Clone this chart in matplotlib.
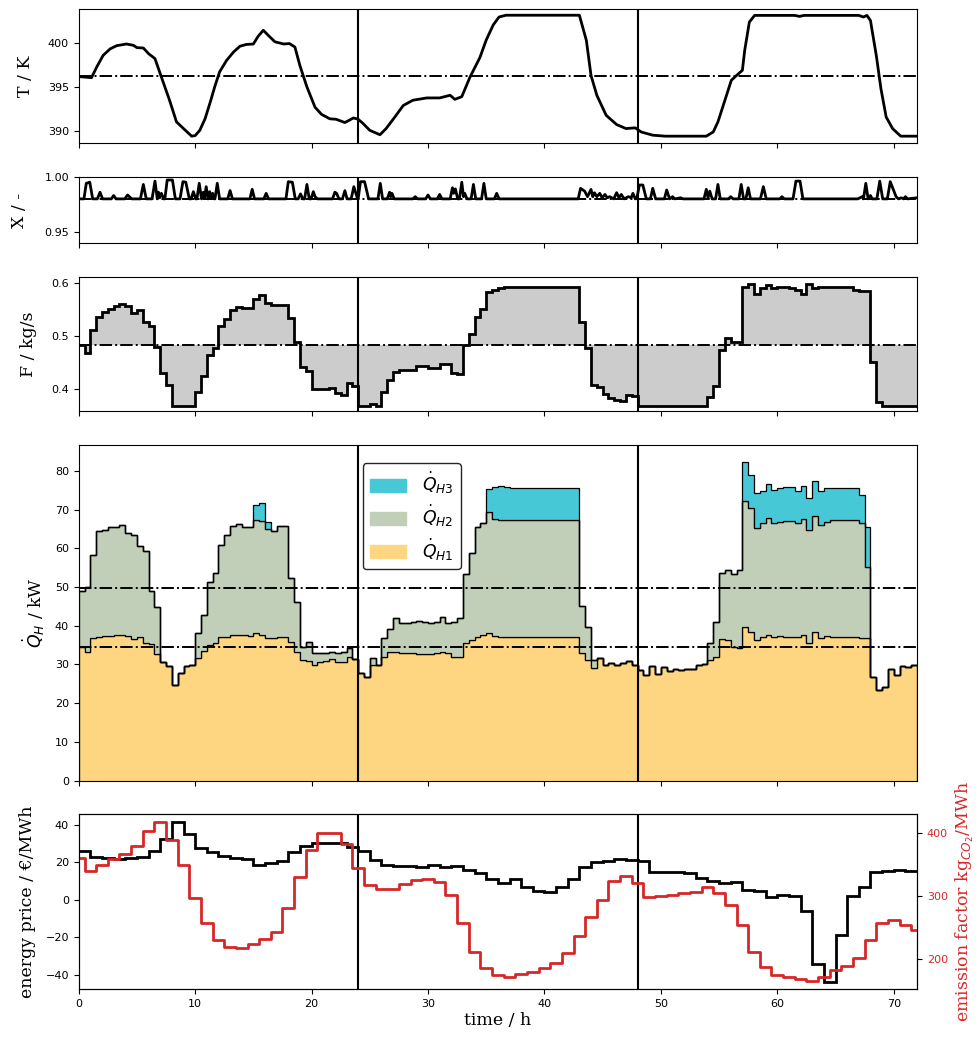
import numpy as np
import matplotlib
matplotlib.use("Agg")
import matplotlib.pyplot as plt
from matplotlib.patches import Patch

# ---------------- data ----------------
# reactor temperature (K), sampled points
t_T = [0, 1.1, 1.55, 2.1, 2.7, 3.26, 4.1, 4.7, 5.0, 5.55, 6.0, 6.55, 7.0, 7.4, 7.8,
       8.4, 9.0, 9.7, 10.0, 10.4, 10.85, 11.3, 11.7, 12.1, 12.7, 13.3, 13.85, 14.4,
       15.0, 15.4, 15.85, 16.3, 16.85, 17.6, 18.1, 18.57, 19.0, 19.6, 20.3, 20.86,
       21.57, 22.1, 22.86, 23.6, 24.0, 24.4, 25.0, 25.87, 26.4, 27.15, 27.87, 28.7,
       29.9, 31.0, 31.9, 32.3, 32.9, 33.6, 34.45, 35.0, 35.6, 36.1, 36.7, 43.0, 43.6,
       44.0, 44.5, 45.3, 46.2, 47.0, 47.8, 48.3, 49.3, 50.4, 53.9, 54.5, 54.9, 55.5,
       56.05, 56.5, 57.0, 57.2, 57.6, 58.05, 61.5, 61.9, 62.3, 67.0, 67.4, 67.7, 68.0,
       68.5, 68.9, 69.35, 69.9, 70.6, 72.0]
T = [396.17, 396.05, 397.26, 398.57, 399.3, 399.66, 399.85, 399.7, 399.44, 399.4,
     398.76, 398.2, 396.5, 395.0, 393.5, 391.05, 390.3, 389.44, 389.5, 390.1, 391.4,
     393.3, 395.1, 396.7, 398.0, 398.95, 399.6, 399.8, 399.85, 400.7, 401.4, 400.8,
     400.1, 399.85, 399.9, 399.5, 397.4, 395.0, 392.7, 391.9, 391.4, 391.35, 390.98,
     391.5, 391.35, 390.9, 390.1, 389.6, 390.3, 391.6, 392.9, 393.5, 393.76, 393.76,
     394.06, 393.6, 393.9, 396.1, 398.3, 400.3, 402.0, 402.9, 403.1, 403.1, 400.26,
     396.3, 394.06, 391.8, 390.75, 390.3, 390.38, 389.92, 389.55, 389.44, 389.44,
     389.92, 391.05, 393.5, 395.75, 396.3, 396.88, 399.14, 402.33, 403.08, 403.08,
     402.97, 403.08, 403.08, 402.9, 403.08, 402.5, 398.57, 394.8, 391.6, 390.3,
     389.44, 389.44]
T_ref = 396.2

# conversion X (-)
t_X = [0, 0.45, 0.65, 0.95, 1.2, 1.6, 1.83, 2.05, 2.8, 3.0, 3.2, 3.95, 4.2, 4.35,
       4.55, 5.3, 5.55, 5.8, 6.3, 6.55, 6.75, 6.85, 6.95, 7.1, 7.3, 7.4, 7.6, 8.05,
       8.3, 8.7, 8.95, 9.2, 9.5, 9.65, 9.85, 10.05, 10.15, 10.35, 10.55, 10.7, 10.8,
       10.95, 11.1, 11.25, 11.35, 11.5, 11.65, 11.7, 11.9, 12.1, 12.8, 13.0, 13.2,
       14.7, 14.9, 15.1, 15.9, 16.1, 16.3, 17.8, 18.0, 18.35, 18.6, 18.85, 19.05,
       19.25, 19.4, 19.6, 19.8, 19.95, 20.15, 20.3, 20.5, 21.8, 22.0, 22.15, 22.35,
       22.65, 22.86, 23.05, 23.4, 23.63, 23.75, 23.95, 24.0, 24.2, 24.55, 24.9, 25.7,
       25.9, 26.1, 26.5, 26.7, 26.8, 26.9, 27.1, 28.7, 28.9, 29.1, 29.8, 30.0, 30.2,
       30.8, 31.0, 31.2, 31.9, 32.1, 32.2, 32.35, 32.55, 32.7, 32.9, 33.05, 33.15,
       33.35, 33.7, 33.9, 34.1, 34.6, 34.8, 35.0, 35.7, 35.9, 36.1, 42.9, 43.1, 43.45,
       43.7, 44.0, 44.15, 44.3, 44.5, 44.75, 44.95, 45.2, 45.4, 45.6, 45.95, 46.2,
       46.4, 46.6, 46.85, 47.2, 47.45, 47.6, 47.8, 47.95, 48.15, 48.45, 48.75, 49.1,
       49.3, 49.55, 50.3, 50.5, 50.75, 51.0, 51.2, 51.7, 51.9, 53.7, 53.9, 54.05,
       54.2, 54.4, 54.7, 54.9, 55.1, 55.8, 56.0, 56.2, 56.7, 56.9, 57.1, 57.3, 57.5,
       57.7, 58.55, 58.8, 59.05, 60.2, 60.4, 60.6, 61.35, 61.6, 61.95, 62.2, 66.9,
       67.3, 67.4, 67.6, 67.8, 68.0, 68.15, 68.55, 68.8, 69.05, 69.45, 69.7, 69.9,
       70.2, 70.4, 70.65, 70.85, 71.0, 71.2, 72.0]
X = [0.98, 0.98, 0.994, 0.995, 0.98, 0.98, 0.986, 0.98, 0.98, 0.983, 0.98, 0.98,
     0.9835, 0.982, 0.98, 0.98, 0.993, 0.98, 0.98, 0.996, 0.98, 0.986, 0.981, 0.985,
     0.98, 0.98, 0.997, 0.997, 0.98, 0.98, 0.9955, 0.995, 0.98, 0.98, 0.9865, 0.98,
     0.98, 0.994, 0.98, 0.986, 0.981, 0.991, 0.98, 0.9865, 0.981, 0.985, 0.98, 0.98,
     0.994, 0.98, 0.98, 0.9875, 0.98, 0.98, 0.9886, 0.98, 0.98, 0.985, 0.98, 0.98,
     0.9955, 0.995, 0.98, 0.98, 0.9845, 0.98, 0.98, 0.993, 0.98, 0.98, 0.9865, 0.982,
     0.98, 0.98, 0.986, 0.985, 0.98, 0.98, 0.9874, 0.98, 0.98, 0.991, 0.987, 0.98,
     0.98, 0.9955, 0.9955, 0.98, 0.98, 0.994, 0.98, 0.98, 0.986, 0.982, 0.985, 0.98,
     0.98, 0.982, 0.98, 0.98, 0.9835, 0.98, 0.98, 0.984, 0.98, 0.98, 0.99, 0.985,
     0.989, 0.98, 0.98, 0.995, 0.982, 0.985, 0.98, 0.98, 0.993, 0.98, 0.98, 0.994,
     0.98, 0.98, 0.985, 0.98, 0.98, 0.9895, 0.987, 0.982, 0.9885, 0.982, 0.9855,
     0.982, 0.985, 0.981, 0.984, 0.981, 0.982, 0.98, 0.9856, 0.981, 0.984, 0.98,
     0.982, 0.981, 0.985, 0.98, 0.981, 0.9925, 0.9925, 0.98, 0.98, 0.9895, 0.98,
     0.98, 0.988, 0.98, 0.982, 0.98, 0.981, 0.98, 0.98, 0.9886, 0.981, 0.987, 0.98,
     0.98, 0.993, 0.98, 0.98, 0.982, 0.98, 0.98, 0.993, 0.98, 0.98, 0.99, 0.98, 0.98,
     0.991, 0.98, 0.98, 0.982, 0.98, 0.98, 0.996, 0.996, 0.98, 0.98, 0.982, 0.98,
     0.994, 0.98, 0.983, 0.98, 0.98, 0.996, 0.98, 0.98, 0.9955, 0.99, 0.982, 0.98,
     0.981, 0.98, 0.982, 0.98, 0.981]
X_ref = 0.98

# feed flow (kg/s), half-hour steps
F = [0.483, 0.469, 0.511, 0.536, 0.546, 0.552, 0.557, 0.560, 0.557, 0.544, 0.550,
     0.527, 0.519, 0.480, 0.430, 0.408, 0.369, 0.369, 0.369, 0.369, 0.395, 0.426,
     0.464, 0.477, 0.519, 0.533, 0.550, 0.555, 0.553, 0.553, 0.571, 0.577, 0.563,
     0.558, 0.558, 0.558, 0.535, 0.489, 0.442, 0.434, 0.401, 0.400, 0.400, 0.403,
     0.393, 0.389, 0.411, 0.406,
     0.369, 0.369, 0.373, 0.369, 0.395, 0.417, 0.433, 0.436, 0.437, 0.437, 0.443,
     0.443, 0.441, 0.441, 0.447, 0.447, 0.431, 0.428, 0.483, 0.505, 0.536, 0.552,
     0.584, 0.588, 0.591, 0.592, 0.593, 0.593, 0.593, 0.593, 0.593, 0.593, 0.593,
     0.593, 0.593, 0.593, 0.593, 0.593, 0.527, 0.477, 0.408, 0.404, 0.392, 0.384,
     0.380, 0.378, 0.390, 0.388,
     0.369, 0.369, 0.369, 0.369, 0.369, 0.369, 0.369, 0.369, 0.369, 0.369, 0.369,
     0.369, 0.386, 0.406, 0.475, 0.496, 0.489, 0.489, 0.592, 0.598, 0.580, 0.590,
     0.596, 0.590, 0.592, 0.592, 0.591, 0.588, 0.580, 0.598, 0.590, 0.593, 0.593,
     0.593, 0.593, 0.592, 0.592, 0.588, 0.586, 0.586, 0.452, 0.376, 0.369, 0.369,
     0.369, 0.369, 0.369, 0.369]
F_ref = 0.483

# heat duties (kW), half-hour steps
Q_H1 = [34.5, 33.3, 36.8, 37.2, 37.4, 37.4, 37.5, 37.6, 37.4, 36.5, 37.0, 35.5,
        35.3, 32.7, 30.6, 29.6, 24.7, 27.9, 29.7, 29.9, 31.6, 33.6, 35.1, 35.5,
        37.0, 37.2, 37.6, 37.6, 37.5, 37.4, 38.1, 37.6, 36.8, 36.8, 37.2, 37.2,
        35.7, 33.3, 31.2, 31.0, 29.9, 30.6, 31.0, 31.4, 30.6, 30.6, 32.0, 31.4,
        27.9, 26.9, 29.8, 29.8, 31.9, 33.3, 33.3, 32.9, 32.9, 32.9, 32.7, 32.7,
        32.7, 32.9, 33.3, 32.9, 32.0, 32.0, 35.5, 36.3, 37.2, 37.6, 38.2, 37.4,
        37.2, 37.2, 37.2, 37.2, 37.2, 37.2, 37.2, 37.2, 37.2, 37.2, 37.2, 37.2,
        37.2, 37.2, 32.9, 31.2, 29.0, 31.6, 29.9, 30.3, 29.9, 30.3, 31.0, 29.9,
        28.6, 27.3, 29.5, 27.5, 29.3, 28.2, 28.8, 28.6, 28.9, 28.8, 29.9, 30.1,
        31.2, 32.0, 36.5, 36.2, 34.6, 34.2, 39.6, 38.5, 36.2, 37.0, 37.6, 37.2,
        37.4, 37.2, 37.2, 37.0, 37.6, 35.5, 38.5, 36.8, 37.4, 37.2, 37.2, 37.2,
        37.2, 37.2, 36.8, 36.8, 26.9, 23.3, 24.3, 28.8, 27.3, 29.5, 29.3, 29.9]
Q_H2 = [14.4, 16.8, 21.5, 27.3, 27.4, 28.1, 28.1, 28.5, 26.5, 27.0, 23.6, 23.9,
        13.8, 12.1, 0, 0, 0, 0, 0, 0, 6.6, 9.2, 16.3, 18.2,
        23.9, 26.3, 28.2, 28.6, 28.1, 28.0, 29.3, 29.5, 28.1, 27.8, 28.6, 28.6,
        16.6, 12.8, 3.4, 4.9, 3.0, 2.3, 2.0, 1.8, 2.4, 2.6, 2.2, 0,
        0, 0, 2.0, 0, 4.9, 5.8, 8.6, 7.9, 7.9, 8.2, 8.6, 8.4,
        8.0, 8.2, 8.9, 7.9, 9.1, 9.9, 17.9, 22.4, 28.2, 28.9, 31.3, 30.1,
        30.0, 30.0, 30.0, 30.0, 30.0, 30.0, 30.0, 30.0, 30.0, 30.0, 30.0, 30.0,
        30.0, 30.0, 12.1, 8.6, 2.2, 0, 0, 0, 0, 0, 0, 0,
        0, 0, 0, 0, 0, 0, 0, 0, 0, 0, 0, 0,
        4.3, 9.1, 17.2, 18.2, 18.8, 20.2, 32.5, 31.9, 29.0, 29.5, 30.2, 29.3,
        29.5, 29.9, 29.9, 29.5, 29.9, 29.3, 29.9, 29.3, 29.5, 30.0, 30.0, 30.0,
        30.0, 30.0, 29.7, 18.5, 0, 0, 0, 0, 0, 0, 0, 0]
Q_H3 = [0, 0, 0, 0, 0, 0, 0, 0, 0, 0, 0, 0,
        0, 0, 0, 0, 0, 0, 0, 0, 0, 0, 0, 0,
        0, 0, 0, 0, 0, 0, 3.8, 4.6, 2.0, 0, 0, 0,
        0, 0, 0, 0, 0, 0, 0, 0, 0, 0, 0, 0,
        0, 0, 0, 0, 0, 0, 0, 0, 0, 0, 0, 0,
        0, 0, 0, 0, 0, 0, 0, 0, 0, 0, 5.8, 8.3,
        8.9, 8.6, 8.5, 8.4, 8.4, 8.4, 8.4, 8.4, 8.4, 8.4, 8.4, 8.4,
        8.4, 8.4, 0, 0, 0, 0, 0, 0, 0, 0, 0, 0,
        0, 0, 0, 0, 0, 0, 0, 0, 0, 0, 0, 0,
        0, 0, 0, 0, 0, 0, 10.3, 8.6, 9.0, 8.2, 8.9, 8.6,
        8.7, 8.7, 8.7, 8.4, 8.6, 8.2, 8.9, 8.6, 8.7, 8.4, 8.4, 8.4,
        8.4, 8.4, 7.3, 10.2, 0, 0, 0, 0, 0, 0, 0, 0]
Q_ref = [34.5, 49.7]

# hourly energy price (EUR/MWh)
price = [26.1, 23.1, 22.6, 21.9, 22.6, 23.1, 26.1, 32.4, 41.4, 35.0, 27.6, 25.4,
         23.6, 22.6, 21.7, 18.7, 19.9, 20.8, 25.8, 28.8, 30.6, 30.2, 30.2, 28.1,
         26.1, 21.3, 18.7, 18.1, 18.1, 17.8, 18.7, 17.4, 18.1, 16.0, 14.2, 11.0,
         9.2, 11.0, 6.8, 4.8, 4.1, 6.8, 11.2, 17.4, 20.4, 21.0, 21.9, 21.4,
         20.9, 15.1, 14.9, 15.1, 14.2, 11.9, 10.3, 8.9, 9.3, 5.3, 4.8, 1.8,
         2.7, 2.3, -6.2, -34.1, -43.6, -18.7, 2.1, 7.1, 15.1, 15.5, 16.0, 15.5]
# hourly emission factor (kg CO2/MWh), values at full hours 0..72
emission = [360.2, 340.6, 349.6, 358.6, 366.6, 380.4, 403.7, 417.5, 389.4, 349.6,
            296.6, 256.8, 230.2, 218.6, 217.0, 223.9, 231.8, 243.5, 280.6, 330.0,
            373.5, 401.1, 401.1, 382.5, 344.3, 317.8, 310.9, 311.4, 318.8, 325.7,
            327.3, 323.0, 301.8, 256.8, 211.6, 185.1, 174.5, 171.8, 175.6, 179.8,
            185.1, 194.0, 209.0, 236.5, 266.3, 293.8, 324.6, 332.5, 320.4, 299.1,
            300.0, 301.5, 304.5, 307.0, 314.0, 305.6, 286.0, 254.0, 211.7, 186.7,
            174.5, 170.8, 167.6, 165.0, 170.8, 182.5, 188.9, 201.0, 230.2, 256.8,
            262.0, 254.0, 246.0]

day_marks = [24, 48]

# ---------------- styling ----------------
C_H1 = "#fed581"
C_H2 = "#c1cfb9"
C_H3 = "#46c8d6"
C_F = "#cccccc"
C_RED = "#d62728"
SERIF = "DejaVu Serif"
LAB = 12.5
TCK = 8
PAD = 10

plt.rcParams["xtick.labelsize"] = TCK
plt.rcParams["ytick.labelsize"] = TCK

half_edges = np.arange(0, 72.01, 0.5)
hour_edges = np.arange(0, 72.01, 1.0)
hours = np.arange(0, 73)

fig = plt.figure(figsize=(9.79, 10.38), dpi=100)
L, W = 0.0804, 0.8563
ax1 = fig.add_axes([L, 0.8625, W, 0.1288])
ax2 = fig.add_axes([L, 0.7656, W, 0.0642])
ax3 = fig.add_axes([L, 0.6043, W, 0.1285])
ax4 = fig.add_axes([L, 0.2479, W, 0.3231])
ax5 = fig.add_axes([L, 0.0472, W, 0.1683])
axes = [ax1, ax2, ax3, ax4, ax5]

# temperature
ax1.plot(t_T, T, color="k", lw=2)
ax1.axhline(T_ref, color="k", ls="-.", lw=1.4)
ax1.set_ylim(388.7, 403.8)
ax1.set_yticks([390, 395, 400])
ax1.set_ylabel("T / K", family=SERIF, fontsize=LAB, labelpad=PAD)

# conversion
ax2.axhline(X_ref, color="k", ls="-.", lw=1.4)
ax2.plot(t_X, X, color="k", lw=2)
ax2.set_ylim(0.94, 1.0)
ax2.set_yticks([0.95, 1.0])
ax2.set_yticklabels(["0.95", "1.00"])
ax2.set_ylabel("X / -", family=SERIF, fontsize=LAB, labelpad=PAD + 2)

# feed flow
ax3.stairs(F, half_edges, baseline=F_ref, fill=True, color=C_F)
ax3.stairs(F, half_edges, baseline=None, color="k", lw=2)
ax3.axhline(F_ref, color="k", ls="-.", lw=1.4)
ax3.set_ylim(0.3596, 0.611)
ax3.set_yticks([0.4, 0.5, 0.6])
ax3.set_ylabel("F / kg/s", family=SERIF, fontsize=LAB, labelpad=PAD)

# heat duties, stacked
q1 = np.array(Q_H1)
q12 = q1 + np.array(Q_H2)
q123 = q12 + np.array(Q_H3)
ax4.stairs(q1, half_edges, baseline=0, fill=True, facecolor=C_H1,
           edgecolor="k", lw=0.9)
ax4.stairs(q12, half_edges, baseline=q1, fill=True, facecolor=C_H2,
           edgecolor="k", lw=0.9)
ax4.stairs(q123, half_edges, baseline=q12, fill=True, facecolor=C_H3,
           edgecolor="k", lw=0.9)
for q in Q_ref:
    ax4.axhline(q, color="k", ls="-.", lw=1.4)
ax4.set_ylim(0, 86.6)
ax4.set_yticks(np.arange(0, 81, 10))
ax4.set_ylabel(r"$\dot{Q}_H$ / kW", family=SERIF, fontsize=LAB, labelpad=PAD - 4)
handles = [Patch(facecolor=C_H3, edgecolor=C_H3),
           Patch(facecolor=C_H2, edgecolor=C_H2),
           Patch(facecolor=C_H1, edgecolor=C_H1)]
leg = ax4.legend(handles, [r"$\dot{Q}_{H3}$", r"$\dot{Q}_{H2}$", r"$\dot{Q}_{H1}$"],
                 loc="upper left", bbox_to_anchor=(0.339, 0.947), borderaxespad=0,
                 fontsize=12.5, handlelength=2.1, handleheight=0.8,
                 labelspacing=0.4, framealpha=1, edgecolor="0.15",
                 handletextpad=0.9)

# prices and emission factor
ax5.stairs(price, hour_edges, baseline=None, color="k", lw=2)
ax5.set_ylim(-47.6, 45.7)
ax5.set_yticks([-40, -20, 0, 20, 40])
ax5.set_ylabel("energy price / €/MWh", family=SERIF, fontsize=LAB, labelpad=PAD - 3)
ax5.set_xlabel("time / h", family=SERIF, fontsize=LAB, labelpad=2)
ax6 = ax5.twinx()
ax6.step(hours, emission, where="mid", color=C_RED, lw=2)
ax6.set_ylim(152.3, 430.2)
ax6.set_yticks([200, 300, 400])
ax6.tick_params(axis="y", labelcolor=C_RED)
ax6.set_ylabel(r"emission factor kg$_{CO_2}$/MWh", family=SERIF,
               fontsize=LAB, color=C_RED, labelpad=4)

for ax in axes:
    ax.set_xlim(0, 72)
    ax.set_xticks(np.arange(0, 71, 10))
    for d in day_marks:
        ax.axvline(d, color="k", lw=1.5, zorder=5)
    if ax is not ax5:
        ax.tick_params(labelbottom=False)
ax6.set_xlim(0, 72)

fig.savefig("out.png", dpi=100)
